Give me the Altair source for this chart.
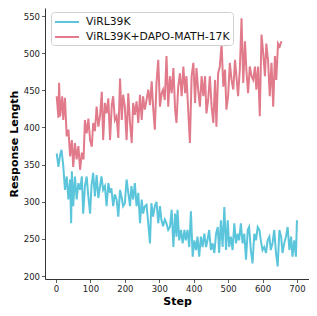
import altair as alt
import pandas as pd

series_names = ["ViRL39K", "ViRL39K+DAPO-MATH-17K"]
series_colors = ["#5bc5db", "#e17b8b"]

steps_virl = [2, 7, 12, 16, 21, 26, 31, 36, 41, 44, 46, 50, 55, 60, 65, 70, 75, 79, 84, 89, 94, 99, 103, 108, 113, 118, 123, 128, 132, 137, 142, 147, 152, 157, 161, 166, 171, 176, 181, 186, 190, 195, 200, 205, 210, 215, 219, 224, 229, 234, 239, 244, 249, 253, 258, 263, 268, 273, 277, 282, 287, 292, 297, 302, 306, 311, 316, 321, 326,
              331, 336, 341, 346, 350, 353, 358, 363, 368, 373, 377, 382, 387, 392, 397, 402, 407, 411, 416, 421, 426, 431, 436, 440, 445, 450, 455, 460, 465, 470, 474, 479, 484, 489, 494, 499, 503, 508, 513, 518, 523, 528, 532, 537, 542, 547, 552, 557, 561, 566, 571, 576, 581, 586, 591, 595, 600, 605, 610, 615, 620, 624, 629, 634, 639, 644, 649, 654, 658, 663, 668, 673, 678, 683, 687, 692, 697, 700]
vals_virl = [365, 347, 363, 370, 349, 316, 334, 303, 330, 271, 341, 294, 334, 303, 325, 316, 334, 284, 321, 334, 307, 284, 321, 339, 307, 336, 305, 321, 334, 316, 321, 294, 325, 312, 318, 294, 310, 303, 280, 316, 307, 294, 298, 330, 312, 294, 321, 303, 325, 294, 312, 271, 303, 284, 294, 296, 271, 244, 298, 280, 294, 300, 271, 294, 276, 267, 276, 271, 262,
             266, 289, 239, 284, 253, 289, 248, 262, 244, 262, 248, 262, 239, 287, 226, 248, 235, 253, 226, 253, 239, 257, 239, 248, 262, 235, 244, 231, 257, 266, 231, 275, 239, 293, 235, 275, 239, 253, 235, 271, 244, 257, 248, 271, 244, 257, 222, 262, 266, 235, 217, 257, 248, 266, 262, 248, 235, 239, 231, 248, 253, 235, 244, 262, 231, 213, 262, 253, 231, 244, 253, 266, 235, 253, 226, 248, 226, 275]

steps_dapo = [2, 7, 9, 12, 18, 21, 26, 31, 36, 41, 46, 50, 55, 60, 65, 70, 75, 80, 84, 89, 94, 99, 104, 108, 113, 118, 123, 128, 133, 137, 142, 147, 152, 157, 162, 166, 171, 176, 181, 186, 191, 195, 200, 205, 210, 215, 220, 224, 229, 234, 239, 244, 249, 253, 258, 263, 268, 273, 278, 282, 287, 292, 297, 302, 307, 311, 316,
              321, 326, 331, 336, 341, 346, 350, 355, 360, 365, 370, 375, 379, 384, 389, 394, 399, 404, 408, 413, 418, 423, 428, 433, 437, 442, 447, 452, 457, 462, 466, 471, 476, 481, 486, 491, 495, 500, 505, 510, 515, 520, 524, 529, 534, 539, 544, 549, 553, 558, 563, 568, 573, 578, 582, 587, 592, 597, 602, 607, 611, 616, 621, 626, 631, 636, 640, 645, 650, 655]
vals_dapo = [442, 413, 460, 415, 442, 410, 440, 388, 397, 361, 383, 347, 379, 357, 375, 343, 366, 357, 410, 392, 412, 383, 374, 406, 395, 428, 401, 416, 448, 383, 433, 419, 439, 383, 430, 442, 410, 415, 386, 466, 410, 444, 428, 383, 446, 406, 379, 433, 417, 435, 406, 444, 410, 442, 424, 437, 451, 430, 462, 428, 397, 460, 491, 428, 446, 451, 437,
             496, 428, 469, 446, 480, 424, 406, 455, 473, 442, 482, 446, 469, 424, 379, 469, 487, 433, 480, 451, 428, 469, 442, 469, 419, 437, 469, 428, 406, 464, 401, 473, 482, 513, 455, 478, 424, 442, 487, 464, 451, 491, 469, 442, 478, 547, 460, 516, 478, 446, 482, 469, 464, 482, 451, 482, 415, 525, 500, 469, 513, 491, 442, 487, 428, 496, 464, 513, 509, 516]

x_ticks = [0, 100, 200, 300, 400, 500, 600, 700]
y_ticks = [200, 250, 300, 350, 400, 450, 500, 550]

df = pd.concat([
    pd.DataFrame({"step": steps_virl, "length": vals_virl, "run": series_names[0]}),
    pd.DataFrame({"step": steps_dapo, "length": vals_dapo, "run": series_names[1]}),
], ignore_index=True)

font = "DejaVu Sans"

chart = alt.Chart(df).mark_line(strokeWidth=2, clip=True).encode(
    x=alt.X("step:Q",
            scale=alt.Scale(domain=[-32, 735], nice=False, zero=False),
            axis=alt.Axis(title="Step", values=x_ticks, grid=False, labelFlush=False,
                          tickSize=3.5, labelPadding=2, titlePadding=2)),
    y=alt.Y("length:Q",
            scale=alt.Scale(domain=[196, 560.8], nice=False, zero=False),
            axis=alt.Axis(title="Response Length", values=y_ticks, grid=False, labelFlush=False,
                          tickSize=3.5, labelPadding=2, titlePadding=4)),
    color=alt.Color("run:N",
                    scale=alt.Scale(domain=series_names, range=series_colors),
                    legend=alt.Legend(title=None, orient="none", legendX=6, legendY=4,
                                      symbolType="M-2,0H2", symbolSize=144, symbolStrokeWidth=2,
                                      symbolOffset=6,
                                      labelFontSize=10.8, labelFont=font, labelColor="#111",
                                      fillColor="white", strokeColor="#d0d0d0", cornerRadius=3,
                                      padding=3, rowPadding=3, labelOffset=12)),
    order="step:Q",
).properties(
    width=264, height=271,
    autosize=alt.AutoSizeParams(type="none"),
    padding={"left": 37, "top": 0, "right": 0, "bottom": 29},
).configure_view(stroke=None).configure_axis(
    labelFont=font, labelFontSize=8.5, labelColor="#222",
    titleFont=font, titleFontSize=11, titleFontWeight="bold", titleColor="#000",
    domainColor="#333", tickColor="#333", domainWidth=1, tickWidth=0.8,
)

chart.save("out.html", embed_options={"renderer": "svg", "actions": False})
